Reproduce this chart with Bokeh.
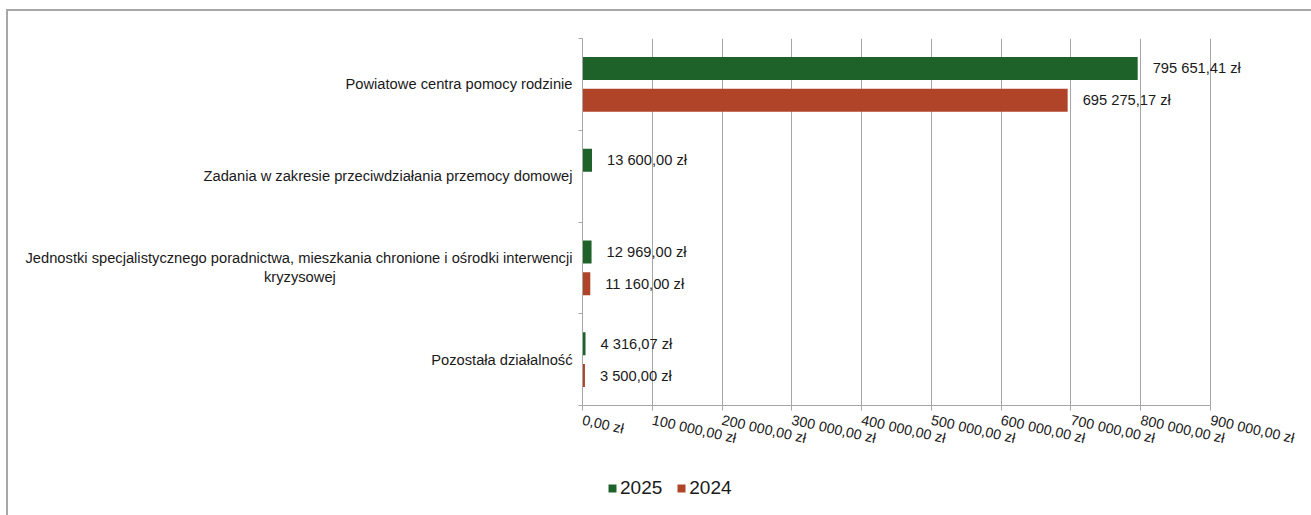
from bokeh.plotting import figure
from bokeh.layouts import column
from bokeh.models import (ColumnDataSource, Range1d, FixedTicker, Legend, LegendItem,
                          LabelSet, LinearAxis)
from bokeh.transform import dodge
from bokeh.embed import file_html
from bokeh.resources import INLINE
from bokeh.core.properties import value

categories = [
    "Powiatowe centra pomocy rodzinie",
    "Zadania w zakresie przeciwdziałania przemocy domowej",
    "Jednostki specjalistycznego poradnictwa, mieszkania chronione i ośrodki interwencji kryzysowej",
    "Pozostała działalność",
]
series_names = ["2025", "2024"]
values_2025 = [795651.41, 13600.00, 12969.00, 4316.07]
values_2024 = [695275.17, None, 11160.00, 3500.00]
x_ticks = [0, 100000, 200000, 300000, 400000, 500000, 600000, 700000, 800000, 900000]
x_tick_labels = ["0,00 zł", "100 000,00 zł", "200 000,00 zł", "300 000,00 zł", "400 000,00 zł",
                 "500 000,00 zł", "600 000,00 zł", "700 000,00 zł", "800 000,00 zł", "900 000,00 zł"]

GREEN = "#1f6229"
RED = "#b04428"
GRID = "#a6a6a6"
TXT = "#1a1a1a"
FONT = "Liberation Sans"

N = len(categories)
# category i sits in band [N-i-1, N-i] (first category on top)
cat_pos = [N - i - 0.5 for i in range(N)]

# layout (pixels)
W, H_MAIN, H_LEG = 1311, 460, 55
LEFT, TOP, BOTTOM = 582, 38, 55
AXIS_PX = 628                      # pixel length of the 0 .. 900 000 axis
FRAME_PX = W - LEFT                # frame runs to the right edge so value labels are not clipped
x_end = x_ticks[-1] * FRAME_PX / AXIS_PX


def fmt(v):
    return f"{v:,.2f}".replace(",", " ").replace(".", ",") + " zł"


def make_source(vals):
    pos = [y for y, v in zip(cat_pos, vals) if v is not None]
    vs = [v for v in vals if v is not None]
    return ColumnDataSource(dict(pos=pos, v=vs, lbl=[fmt(v) for v in vs]))


def wrap_label(c):
    # wrap the long category onto two centred lines (as in the original)
    if c.startswith("Jednostki"):
        head, tail = c.rsplit(" ", 1)
        return head + "\n" + tail + "\u00a0" * 58
    return c


p = figure(
    y_range=Range1d(0, N),
    x_range=Range1d(0, x_end),
    width=W, height=H_MAIN,
    output_backend="svg", toolbar_location=None,
    min_border_left=LEFT, min_border_right=0, min_border_top=TOP, min_border_bottom=BOTTOM,
    y_axis_location=None,
)
p.border_fill_color = None
p.outline_line_color = None
p.ygrid.grid_line_color = None
p.xgrid.ticker = FixedTicker(ticks=x_ticks)
p.xgrid.grid_line_color = GRID
p.xgrid.grid_line_width = 1

p.xaxis.ticker = FixedTicker(ticks=x_ticks)
p.xaxis.bounds = (x_ticks[0], x_ticks[-1])
p.xaxis.major_label_overrides = {t: l for t, l in zip(x_ticks, x_tick_labels)}
p.xaxis.axis_line_color = GRID
p.xaxis.major_tick_line_color = GRID
p.xaxis.major_tick_out = 5
p.xaxis.major_tick_in = 0
p.xaxis.minor_tick_line_color = None
p.xaxis.major_label_orientation = -0.22
p.xaxis.major_label_standoff = 9
p.xaxis.major_label_text_font = FONT
p.xaxis.major_label_text_font_size = "14.3px"
p.xaxis.major_label_text_color = TXT

# category labels
cat_axis = LinearAxis(ticker=FixedTicker(ticks=cat_pos))
cat_axis.axis_line_color = None
cat_axis.major_tick_line_color = None
cat_axis.minor_tick_line_color = None
cat_axis.major_label_text_font = FONT
cat_axis.major_label_text_font_size = "14.7px"
cat_axis.major_label_text_color = TXT
cat_axis.major_label_standoff = 0
cat_axis.major_label_overrides = {y: wrap_label(c) for y, c in zip(cat_pos, categories)}

# boundary ticks between categories
bounds = list(range(N + 1))
bound_axis = LinearAxis(ticker=FixedTicker(ticks=bounds))
bound_axis.axis_line_color = GRID
bound_axis.major_tick_line_color = GRID
bound_axis.major_tick_out = 4
bound_axis.major_tick_in = 0
bound_axis.minor_tick_line_color = None
bound_axis.major_label_overrides = {b: "" for b in bounds}
bound_axis.major_label_standoff = 0
bound_axis.major_label_text_font_size = "1px"
p.add_layout(bound_axis, "left")
p.add_layout(cat_axis, "left")

OFF = 0.174
src25 = make_source(values_2025)
src24 = make_source(values_2024)
r25 = p.hbar(y=dodge("pos", OFF), left=0, right="v", height=0.25,
             source=src25, fill_color=GREEN, line_color=None)
r24 = p.hbar(y=dodge("pos", -OFF), left=0, right="v", height=0.25,
             source=src24, fill_color=RED, line_color=None)

for src, off in ((src25, OFF), (src24, -OFF)):
    p.add_layout(LabelSet(x="v", y=dodge("pos", off), text="lbl", source=src,
                          x_offset=15, text_baseline="middle", text_align="left",
                          text_font=value(FONT), text_font_size="14.7px", text_color=TXT))

# legend strip below the chart (its frame is aligned with the chart's frame);
# the series are drawn there outside the visible range so only their legend shows
lg = figure(width=W, height=H_LEG, output_backend="svg", toolbar_location=None,
            x_axis_location=None, y_axis_location=None,
            min_border=0, min_border_left=LEFT, min_border_right=0,
            x_range=Range1d(0, x_end), y_range=Range1d(N + 10, N + 11))
lg.border_fill_color = None
lg.background_fill_color = None
lg.outline_line_color = None
lg.grid.grid_line_color = None
l25 = lg.hbar(y="pos", left=0, right="v", height=0.25, source=src25, fill_color=GREEN, line_color=None)
l24 = lg.hbar(y="pos", left=0, right="v", height=0.25, source=src24, fill_color=RED, line_color=None)
legend = Legend(
    items=[LegendItem(label=series_names[0], renderers=[l25]),
           LegendItem(label=series_names[1], renderers=[l24])],
    orientation="horizontal", location=(25, 16),
    background_fill_alpha=0, border_line_color=None,
    label_text_font=FONT, label_text_font_size="19px", label_text_color=TXT,
    glyph_width=10, glyph_height=10, spacing=14, label_standoff=3, padding=4, margin=0,
)
lg.add_layout(legend)

layout = column(p, lg, spacing=0, styles={
    "background": "linear-gradient(#a8a8a8,#a8a8a8) 6px 9px / 100% 2px no-repeat, "
                  "linear-gradient(#a8a8a8,#a8a8a8) 6px 9px / 2px 100% no-repeat, #ffffff",
})

open("out.html", "w").write(file_html(layout, INLINE))
